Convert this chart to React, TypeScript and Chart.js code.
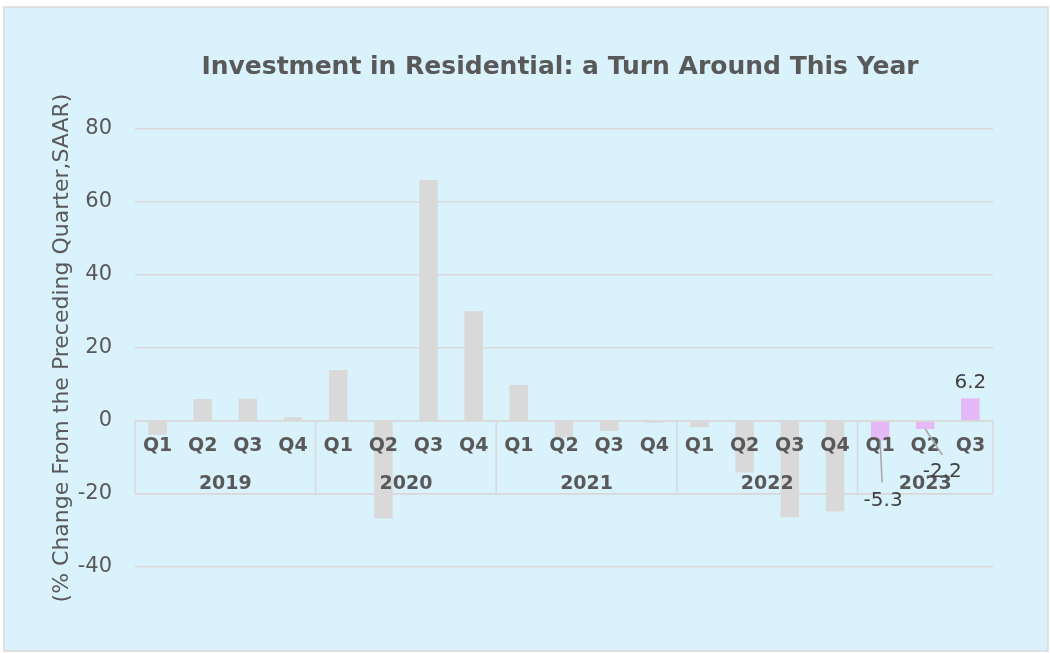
import React, { useEffect, useRef } from 'react';
import { Chart, registerables } from 'chart.js';

Chart.register(...registerables);

const quarters = ['Q1', 'Q2', 'Q3', 'Q4', 'Q1', 'Q2', 'Q3', 'Q4', 'Q1', 'Q2', 'Q3', 'Q4', 'Q1', 'Q2', 'Q3', 'Q4', 'Q1', 'Q2', 'Q3'];
const years = ['2019', '2020', '2021', '2022', '2023'];
const quartersPerYear = [4, 4, 4, 4, 3];
const values = [-3.8, 6.0, 6.1, 1.0, 14.0, -26.7, 66.0, 30.1, 9.9, -4.5, -2.7, -0.5, -1.7, -14.1, -26.4, -24.8, -5.3, -2.2, 6.2];
const highlightFrom = 16; // 2023 bars
const yMin = -40;
const yMax = 80;
const yStep = 20;

const TITLE = 'Investment in Residential: a Turn Around This Year';
const Y_TITLE = '(% Change From the Preceding Quarter,SAAR)';

const GREY_BAR = '#D9D9D9';
const PINK_BAR = '#E5B9F6';
const TEXT = '#595959';
const LINE = '#D9D9D9';

// label offsets (style) for the 2023 data labels
const labelStyle = [
  { dx: 3, dy: 60, leader: true },
  { dx: 17, dy: 43, leader: true },
  { dx: 0, dy: -16, leader: false },
];

const decorPlugin = {
  id: 'decor',
  beforeDraw(chart: any) {
    const { ctx, width, height } = chart;
    ctx.save();
    ctx.fillStyle = '#ffffff';
    ctx.fillRect(0, 0, width, height);
    ctx.fillStyle = '#DAF2FC';
    ctx.fillRect(4, 7, 1044, 644);
    ctx.strokeStyle = '#D9D9D9';
    ctx.lineWidth = 1.5;
    ctx.strokeRect(4, 7, 1044, 644);

    const ca = chart.chartArea;
    ctx.fillStyle = TEXT;
    ctx.font = 'bold 25px "DejaVu Sans"';
    ctx.textAlign = 'center';
    ctx.textBaseline = 'middle';
    ctx.fillText(TITLE, 560, 67);

    ctx.translate(62, (ca.top + ca.bottom) / 2);
    ctx.rotate(-Math.PI / 2);
    ctx.font = '22px "DejaVu Sans"';
    ctx.fillText(Y_TITLE, 0, 0);
    ctx.restore();
  },
  afterDatasetsDraw(chart: any) {
    const { ctx } = chart;
    const xs = chart.scales.x;
    const ys = chart.scales.y;
    const ca = chart.chartArea;
    const n = quarters.length;
    const cw = (ca.right - ca.left) / n;
    const y0 = ys.getPixelForValue(0);
    const y20 = ys.getPixelForValue(-20);
    ctx.save();
    ctx.strokeStyle = LINE;
    ctx.lineWidth = 1.5;
    ctx.beginPath();
    ctx.moveTo(ca.left, y0);
    ctx.lineTo(ca.right, y0);
    ctx.moveTo(ca.left, y20);
    ctx.lineTo(ca.right, y20);
    let idx = 0;
    const bounds = [0];
    quartersPerYear.forEach((q) => {
      idx += q;
      bounds.push(idx);
    });
    bounds.forEach((b) => {
      const x = ca.left + b * cw;
      ctx.moveTo(x, y0);
      ctx.lineTo(x, y20);
    });
    ctx.stroke();

    ctx.fillStyle = TEXT;
    ctx.textAlign = 'center';
    ctx.textBaseline = 'middle';
    ctx.font = 'bold 19px "DejaVu Sans"';
    quarters.forEach((q, i) => {
      ctx.fillText(q, xs.getPixelForValue(i), y0 + 25);
    });
    years.forEach((yr, i) => {
      const x = ca.left + ((bounds[i] + bounds[i + 1]) / 2) * cw;
      ctx.fillText(yr, x, y0 + 63);
    });

    const meta = chart.getDatasetMeta(0);
    ctx.font = '20px "DejaVu Sans"';
    for (let i = highlightFrom; i < n; i++) {
      const el = meta.data[i];
      const st = labelStyle[i - highlightFrom];
      const lx = el.x + st.dx;
      const ly = el.y + st.dy;
      if (st.leader) {
        ctx.strokeStyle = '#A6A6A6';
        ctx.lineWidth = 1.5;
        ctx.beginPath();
        ctx.moveTo(el.x, el.y);
        if (st.dx > 5) ctx.lineTo(lx, ly - 17);
        else ctx.lineTo(lx - 1, ly - 18);
        ctx.stroke();
      }
      ctx.fillStyle = '#404040';
      ctx.fillText(values[i].toFixed(1), lx, ly);
    }
    ctx.restore();
  },
};

export default function App() {
  const ref = useRef<HTMLCanvasElement>(null);
  useEffect(() => {
    if (!ref.current) return;
    const chart = new Chart(ref.current, {
      type: 'bar',
      data: {
        labels: quarters,
        datasets: [
          {
            data: values,
            backgroundColor: values.map((_, i) => (i >= highlightFrom ? PINK_BAR : GREY_BAR)),
            barPercentage: 0.41,
            categoryPercentage: 1,
          },
        ],
      },
      options: {
        animation: false,
        responsive: false,
        maintainAspectRatio: false,
        layout: { padding: { left: 40, right: 57, top: 129, bottom: 86 } },
        plugins: {
          legend: { display: false },
          title: { display: false },
          tooltip: { enabled: false },
        },
        scales: {
          x: { display: false },
          y: {
            min: yMin,
            max: yMax,
            afterFit(scale: any) {
              scale.width = 95;
            },
            ticks: {
              stepSize: yStep,
              color: TEXT,
              padding: 23,
              font: { family: '"DejaVu Sans"', size: 21 },
            },
            border: { display: false },
            grid: { color: LINE, lineWidth: 1.5, drawTicks: false },
          },
        },
      },
      plugins: [decorPlugin],
    });
    return () => chart.destroy();
  }, []);
  return (
    <div style={{ position: 'absolute', left: 0, top: 0, width: 1050, height: 653 }}>
      <canvas ref={ref} width={1050} height={653} style={{ display: 'block' }} />
    </div>
  );
}
